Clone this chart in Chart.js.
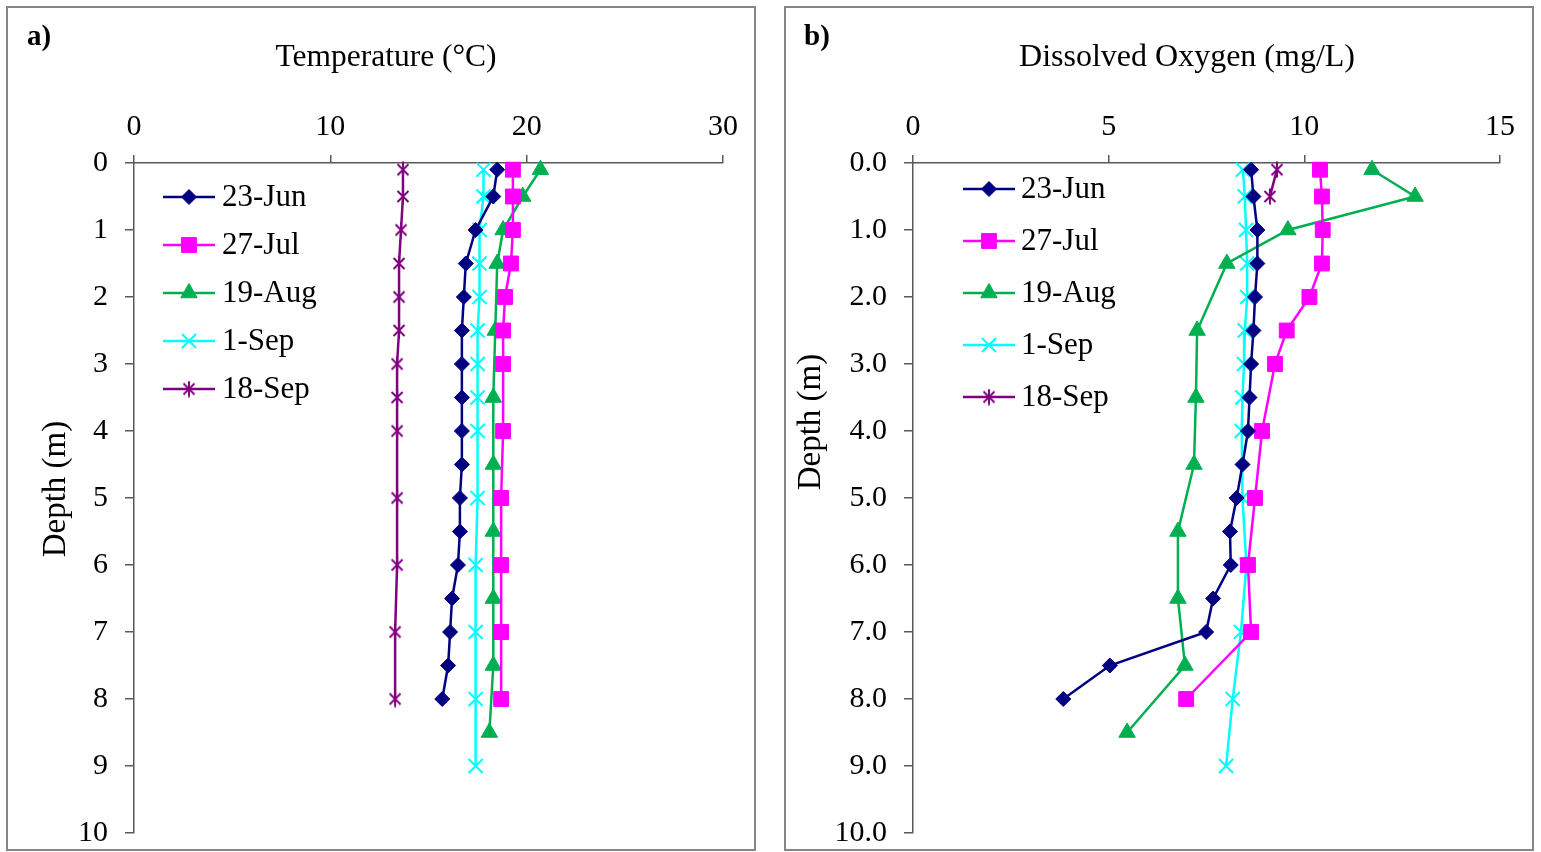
<!DOCTYPE html>
<html><head><meta charset="utf-8">
<script src="https://cdn.jsdelivr.net/npm/chart.js@4/dist/chart.umd.min.js"></script>
<style>
html,body{margin:0;padding:0;background:#fff;width:1541px;height:852px;overflow:hidden;}
.panel{position:absolute;top:6px;height:845px;width:750px;border:2px solid #868686;box-sizing:border-box;pointer-events:none;z-index:2}
canvas{position:absolute;top:0;left:0}
</style></head><body>
<div style="position:absolute;left:0;top:2px;width:770px;height:850px"><canvas id="cl" width="770" height="850"></canvas></div>
<div style="position:absolute;left:770px;top:2px;width:771px;height:850px"><canvas id="cr" width="771" height="850"></canvas></div>
<div class="panel" style="left:6px"></div>
<div class="panel" style="left:784px"></div>
<script>
// ---- data ----
const seriesNames = ['23-Jun', '27-Jul', '19-Aug', '1-Sep', '18-Sep'];

const depthJun = [0.1,0.5,1,1.5,2,2.5,3,3.5,4,4.5,5,5.5,6,6.5,7,7.5,8];
const depthJul = [0.1,0.5,1,1.5,2,2.5,3,4,5,6,7,8];
const depthAug = [0.1,0.5,1,1.5,2.5,3.5,4.5,5.5,6.5,7.5,8.5];
const depthSep1 = [0.1,0.5,1,1.5,2,2.5,3,3.5,4,5,6,7,8,9];
const depthSep18 = [0.1,0.5,1,1.5,2,2.5,3,3.5,4,5,6,7,8];
const depthSep18DO = [0.1,0.5];

const tempJun = [18.5,18.3,17.4,16.9,16.8,16.7,16.7,16.7,16.7,16.7,16.6,16.6,16.5,16.2,16.1,16.0,15.7];
const tempJul = [19.3,19.3,19.3,19.2,18.9,18.8,18.8,18.8,18.7,18.7,18.7,18.7];
const tempAug = [20.7,19.8,18.8,18.5,18.4,18.3,18.3,18.3,18.3,18.3,18.1];
const tempSep1 = [17.8,17.8,17.6,17.6,17.6,17.5,17.5,17.5,17.5,17.5,17.4,17.4,17.4,17.4];
const tempSep18 = [13.7,13.7,13.6,13.5,13.5,13.5,13.4,13.4,13.4,13.4,13.4,13.3,13.3];

const doJun = [8.64,8.7,8.8,8.8,8.74,8.7,8.64,8.6,8.56,8.42,8.27,8.1,8.12,7.67,7.49,5.03,3.84];
const doJul = [10.4,10.45,10.47,10.45,10.13,9.55,9.25,8.92,8.74,8.56,8.64,6.98];
const doAug = [11.73,12.83,9.58,8.02,7.26,7.23,7.18,6.77,6.77,6.95,5.47];
const doSep1 = [8.43,8.48,8.51,8.54,8.54,8.48,8.46,8.42,8.4,8.42,8.52,8.38,8.17,8.0];
const doSep18 = [9.3,9.12];

const tempTicksMax = 30, tempTickStep = 10;
const doTicksMax = 15, doTickStep = 5;
const depthMax = 10, depthStep = 1;

// ---- styles ----
const FONT = "'Liberation Serif','Times New Roman',serif";
const colors = ['#000080', '#FF00FF', '#00B050', '#00FFFF', '#800080'];

function makeStar(color){
  const c = document.createElement('canvas');
  c.width = 16; c.height = 17;
  const g = c.getContext('2d');
  g.strokeStyle = color; g.lineWidth = 2;
  g.beginPath();
  g.moveTo(2.5,3); g.lineTo(13.5,14);
  g.moveTo(13.5,3); g.lineTo(2.5,14);
  g.moveTo(8,0.5); g.lineTo(8,16.5);
  g.stroke();
  return c;
}
const starImg = makeStar(colors[4]);
const markers = [
  {pointStyle:'rectRot', radius:7.5, bw:1},
  {pointStyle:'rect', radius:10.5, bw:1},
  {pointStyle:'triangle', radius:9.5, bw:1},
  {pointStyle:'crossRot', radius:10, bw:2},
  {pointStyle:starImg, radius:8, bw:1}
];

function toPts(xs, ys){ return xs.map((v,i)=>({x:v, y:ys[i]})); }

function makeDatasets(pairs){
  return pairs.map((p,i)=>({
    label: seriesNames[i],
    data: toPts(p[0], p[1]),
    showLine: true,
    borderColor: colors[i],
    backgroundColor: colors[i],
    pointBorderColor: colors[i],
    pointBackgroundColor: colors[i],
    borderWidth: 2.5,
    pointStyle: markers[i].pointStyle,
    pointRadius: markers[i].radius,
    pointHoverRadius: markers[i].radius,
    pointBorderWidth: markers[i].bw,
    clip: false
  }));
}

function drawText(ctx, text, x, y, font, align){
  ctx.save();
  ctx.font = font;
  ctx.fillStyle = '#000';
  ctx.textBaseline = 'middle';
  ctx.textAlign = align;
  ctx.fillText(text, x, y);
  ctx.restore();
}

function decorPlugin(cfg){
  return {
    id: 'decor',
    afterDraw(chart){
      const ctx = chart.ctx;
      drawText(ctx, cfg.label, cfg.labelX, cfg.labelY, "bold 29px " + FONT, 'left');
      drawText(ctx, cfg.title, cfg.titleX, cfg.titleY, cfg.titleSize + "px " + FONT, 'center');
      ctx.save();
      ctx.translate(cfg.yTitleX, cfg.yTitleY);
      ctx.rotate(-Math.PI/2);
      ctx.font = "33px " + FONT;
      ctx.fillStyle = '#000';
      ctx.textAlign = 'center';
      ctx.textBaseline = 'middle';
      ctx.fillText('Depth (m)', 0, 0);
      ctx.restore();
      chart.data.datasets.forEach((ds, i)=>{
        const y = cfg.legY + i*cfg.legDy;
        ctx.save();
        ctx.strokeStyle = ds.borderColor;
        ctx.lineWidth = 2.5;
        ctx.beginPath();
        ctx.moveTo(cfg.legX, y);
        ctx.lineTo(cfg.legX + 52, y);
        ctx.stroke();
        ctx.fillStyle = ds.backgroundColor;
        ctx.strokeStyle = ds.borderColor;
        ctx.lineWidth = ds.pointBorderWidth;
        Chart.helpers.drawPoint(ctx, {pointStyle: ds.pointStyle, radius: ds.pointRadius, borderWidth: ds.pointBorderWidth, rotation: 0}, cfg.legX + 26, y);
        ctx.restore();
        drawText(ctx, ds.label, cfg.legTextX, y + 1, "31px " + FONT, 'left');
      });
    }
  };
}

function makeScales(xmax, xstep, yfmt, yWidth){
  const tickFont = {family: FONT, size: 30};
  const axisColor = '#595959';
  return {
    x: {
      type: 'linear', position: 'top', min: 0, max: xmax,
      ticks: {stepSize: xstep, font: tickFont, color: '#000', padding: 10, maxRotation: 0, autoSkip: false},
      grid: {drawOnChartArea: false, drawTicks: true, tickLength: 8, color: axisColor, lineWidth: 1.5},
      border: {display: true, color: axisColor, width: 1.5},
      afterFit(s){ s.height = 161; s.paddingLeft = 0; s.paddingRight = 0; }
    },
    y: {
      type: 'linear', reverse: true, min: 0, max: depthMax,
      ticks: {stepSize: depthStep, font: tickFont, color: '#000', padding: 17, callback: yfmt, autoSkip: false},
      grid: {drawOnChartArea: false, drawTicks: true, tickLength: 9, color: axisColor, lineWidth: 1.5},
      border: {display: true, color: axisColor, width: 1.5},
      afterFit(s){ s.width = yWidth; s.paddingTop = 0; s.paddingBottom = 0; }
    }
  };
}

function makeChart(id, datasets, scales, padding, plugin){
  return new Chart(document.getElementById(id), {
    type: 'scatter',
    data: {datasets},
    options: {
      responsive: false, animation: false, devicePixelRatio: 1,
      layout: {padding},
      plugins: {legend: {display: false}, tooltip: {enabled: false}},
      scales
    },
    plugins: [plugin]
  });
}

makeChart('cl',
  makeDatasets([[tempJun, depthJun],[tempJul, depthJul],[tempAug, depthAug],[tempSep1, depthSep1],[tempSep18, depthSep18]]),
  makeScales(tempTicksMax, tempTickStep, v => String(v), 134),
  {left:0, right:47, top:0, bottom:19},
  decorPlugin({label:'a)', labelX:27, labelY:36, title:'Temperature (°C)', titleSize:31.5, titleX:386, titleY:56,
    yTitleX:56, yTitleY:487, legX:163, legY:195, legDy:48, legTextX:222})
);

makeChart('cr',
  makeDatasets([[doJun, depthJun],[doJul, depthJul],[doAug, depthAug],[doSep1, depthSep1],[doSep18, depthSep18DO]]),
  makeScales(doTicksMax, doTickStep, v => Number(v).toFixed(1), 143),
  {left:0, right:41, top:0, bottom:19},
  decorPlugin({label:'b)', labelX:34, labelY:36, title:'Dissolved Oxygen (mg/L)', titleSize:32, titleX:417, titleY:56,
    yTitleX:41, yTitleY:420, legX:193, legY:187, legDy:52, legTextX:251})
);
</script>
</body></html>
